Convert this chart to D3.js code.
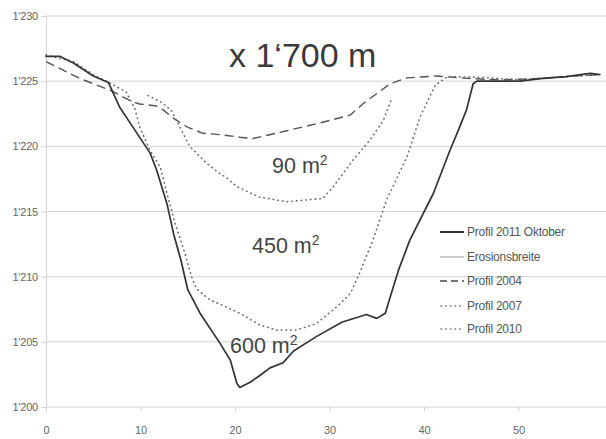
<!DOCTYPE html>
<html>
<head>
<meta charset="utf-8">
<script src="https://cdn.jsdelivr.net/npm/d3@7"></script>
<style>
  body { margin: 0; background: #fff; }
  svg { display: block; }
  .tick text { font-family: "Liberation Sans", sans-serif; fill: #666; }
</style>
</head>
<body>
<svg id="chart"></svg>
<script>
// profile data: distance [m] and elevation [m a.s.l.]
var dist2011 = [0, 1.5, 2.9, 5.0, 6.6, 7.8, 8.9, 11.0, 11.7, 12.8, 13.5, 14.3, 15.0, 16.3, 18.4, 19.5, 20.2, 20.5, 21.6, 22.6, 23.7, 25.1, 26.2, 28.6, 31.3, 33.9, 35.0, 35.9, 36.75, 37.3, 38.5, 41.0, 42.75, 43.5, 44.5, 45.2, 45.6, 48, 50.2, 52.3, 55, 57.6, 58.6];
var elev2011 = [1226.9, 1226.9, 1226.4, 1225.4, 1224.9, 1223.0, 1221.8, 1219.5, 1218.2, 1215.6, 1213.3, 1211.2, 1209.0, 1207.2, 1204.9, 1203.6, 1201.8, 1201.5, 1201.9, 1202.4, 1203.0, 1203.4, 1204.3, 1205.4, 1206.5, 1207.1, 1206.8, 1207.2, 1209.2, 1210.5, 1212.8, 1216.4, 1219.7, 1221.0, 1222.8, 1224.8, 1225.0, 1225.0, 1225.0, 1225.2, 1225.35, 1225.6, 1225.5];

var dist2004 = [0, 3.6, 6.8, 9.2, 9.9, 11.7, 12.4, 13.5, 14.9, 16.6, 18.4, 20.5, 21.9, 25.5, 29.0, 32.2, 33.6, 35.3, 36.4, 38.2, 41.3, 44.9, 48, 52, 55, 58.6];
var elev2004 = [1226.5, 1225.2, 1224.3, 1223.4, 1223.25, 1223.1, 1222.8, 1222.15, 1221.5, 1221.0, 1220.9, 1220.7, 1220.6, 1221.2, 1221.8, 1222.4, 1223.3, 1224.2, 1224.8, 1225.25, 1225.4, 1225.2, 1225.1, 1225.2, 1225.35, 1225.5];

var dist2007 = [10.8, 12.4, 13.3, 14.5, 15.2, 17.0, 18.4, 19.1, 20.2, 22.6, 25.5, 29.3, 30.4, 32.5, 34.3, 35.7, 36.6];
var elev2007 = [1223.9, 1223.3, 1222.7, 1221.0, 1220.0, 1218.7, 1217.9, 1217.6, 1216.9, 1216.1, 1215.75, 1216.0, 1216.9, 1218.95, 1220.5, 1222.0, 1223.7];

var dist2010 = [0, 2.9, 5.0, 6.8, 8.5, 9.4, 9.9, 11.0, 12.1, 12.8, 13.65, 14.7, 15.4, 15.9, 17.35, 18.4, 20.5, 22.6, 24.4, 26.5, 28.6, 30.8, 32.2, 33.2, 34.6, 36.05, 38.2, 39.6, 41.2, 42.5, 46, 50, 54, 58.6];
var elev2010 = [1227.0, 1226.5, 1225.5, 1224.85, 1224.15, 1222.9, 1221.5, 1219.7, 1218.4, 1216.4, 1214.1, 1211.8, 1210.0, 1209.1, 1208.2, 1207.9, 1207.2, 1206.3, 1205.9, 1205.9, 1206.4, 1207.7, 1208.7, 1210.3, 1212.8, 1215.9, 1219.2, 1222.3, 1224.7, 1225.35, 1225.3, 1225.1, 1225.3, 1225.5];

var xTicks = [0, 10, 20, 30, 40, 50];
var yTicks = [1200, 1205, 1210, 1215, 1220, 1225, 1230];
var legendLabels = ["Profil 2011 Oktober", "Erosionsbreite", "Profil 2004", "Profil 2007", "Profil 2010"];
var areaLabels = ["90 m", "450 m", "600 m"];

var width = 606, height = 439;
var plotLeft = 46, plotTop = 16, plotBottom = 407;

var svg = d3.select("#chart")
  .attr("width", width)
  .attr("height", height);

var x = d3.scaleLinear().domain([0, 60]).range([plotLeft, plotLeft + 567]);
var y = d3.scaleLinear().domain([1200, 1230]).range([plotBottom, plotTop]);

// gridlines
svg.append("g")
  .selectAll("line")
  .data(yTicks)
  .enter()
  .append("line")
  .attr("x1", plotLeft)
  .attr("x2", width)
  .attr("y1", function(d) { return y(d); })
  .attr("y2", function(d) { return y(d); })
  .attr("stroke", "#d2d2d2")
  .attr("stroke-width", 1);

// axes
var fmt = function(d) { return "1'" + String(d).slice(1); };
var yAxis = d3.axisLeft(y).tickValues(yTicks).tickFormat(fmt).tickSize(5).tickPadding(3);
var gy = svg.append("g")
  .attr("transform", "translate(" + plotLeft + ",0)")
  .call(yAxis);
gy.selectAll("text").style("font-size", "11px").style("letter-spacing", "-0.2px");

var xAxis = d3.axisBottom(x).tickValues(xTicks).tickSize(4).tickPadding(15);
var gx = svg.append("g")
  .attr("transform", "translate(0," + plotBottom + ")")
  .call(xAxis);
gx.selectAll("text").style("font-size", "11px");

svg.selectAll(".domain").attr("stroke", "#d2d2d2");
svg.selectAll(".tick line").attr("stroke", "#cfcfcf");
gx.select(".domain").remove();

// profile lines
function profile(xs, ys) {
  return d3.range(xs.length).map(function(i) { return [xs[i], ys[i]]; });
}
var line = d3.line()
  .x(function(d) { return x(d[0]); })
  .y(function(d) { return y(d[1]); })
  .curve(d3.curveLinear);

var series = [
  { data: profile(dist2004, elev2004), color: "#555", w: 1.4, dash: "9,5", cap: "butt" },
  { data: profile(dist2007, elev2007), color: "#6a6a6a", w: 1.6, dash: "0.5,4.2", cap: "round" },
  { data: profile(dist2010, elev2010), color: "#6a6a6a", w: 1.6, dash: "0.5,4.2", cap: "round" },
  { data: profile(dist2011, elev2011), color: "#333", w: 1.7, dash: null, cap: "round" }
];

svg.append("g")
  .selectAll("path")
  .data(series)
  .enter()
  .append("path")
  .attr("d", function(d) { return line(d.data); })
  .attr("fill", "none")
  .attr("stroke", function(d) { return d.color; })
  .attr("stroke-width", function(d) { return d.w; })
  .attr("stroke-dasharray", function(d) { return d.dash; })
  .attr("stroke-linecap", function(d) { return d.cap; })
  .attr("stroke-linejoin", "round");

// annotations
svg.append("text")
  .attr("x", 229)
  .attr("y", 67)
  .attr("font-family", "Liberation Sans, Arial, sans-serif")
  .attr("font-size", 34)
  .attr("fill", "#3a3a3a")
  .text("x 1\u2018700 m");

var areaPos = [[272, 173], [252, 253], [230, 353]];
var labels = svg.append("g")
  .selectAll("text")
  .data(areaLabels)
  .enter()
  .append("text")
  .attr("x", function(d, i) { return areaPos[i][0]; })
  .attr("y", function(d, i) { return areaPos[i][1]; })
  .attr("font-family", "Liberation Sans, Arial, sans-serif")
  .attr("font-size", 21.5)
  .attr("fill", "#444");
labels.append("tspan").text(function(d) { return d; });
labels.append("tspan")
  .attr("dy", -8)
  .attr("font-size", 14)
  .text("2");

// legend
var legY = [232, 257, 281, 306, 329];
var legStyle = [
  { color: "#333", w: 2, dash: null, cap: "butt" },
  { color: "#aaa", w: 1.2, dash: null, cap: "butt" },
  { color: "#444", w: 1.6, dash: "7,4", cap: "butt" },
  { color: "#777", w: 1.6, dash: "0.5,4.2", cap: "round" },
  { color: "#777", w: 1.6, dash: "0.5,4.2", cap: "round" }
];
var leg = svg.append("g")
  .selectAll("g")
  .data(legendLabels)
  .enter()
  .append("g")
  .attr("transform", function(d, i) { return "translate(440," + legY[i] + ")"; });
leg.append("line")
  .attr("x1", function(d, i) { return i >= 3 ? 1 : 0; })
  .attr("x2", 24)
  .attr("stroke", function(d, i) { return legStyle[i].color; })
  .attr("stroke-width", function(d, i) { return legStyle[i].w; })
  .attr("stroke-dasharray", function(d, i) { return legStyle[i].dash; })
  .attr("stroke-linecap", function(d, i) { return legStyle[i].cap; });
leg.append("text")
  .attr("x", 27)
  .attr("dy", "0.35em")
  .attr("font-family", "Liberation Sans, sans-serif")
  .attr("font-size", 12)
  .attr("letter-spacing", "-0.25px")
  .attr("fill", "#555")
  .text(function(d) { return d; });
</script>
</body>
</html>
